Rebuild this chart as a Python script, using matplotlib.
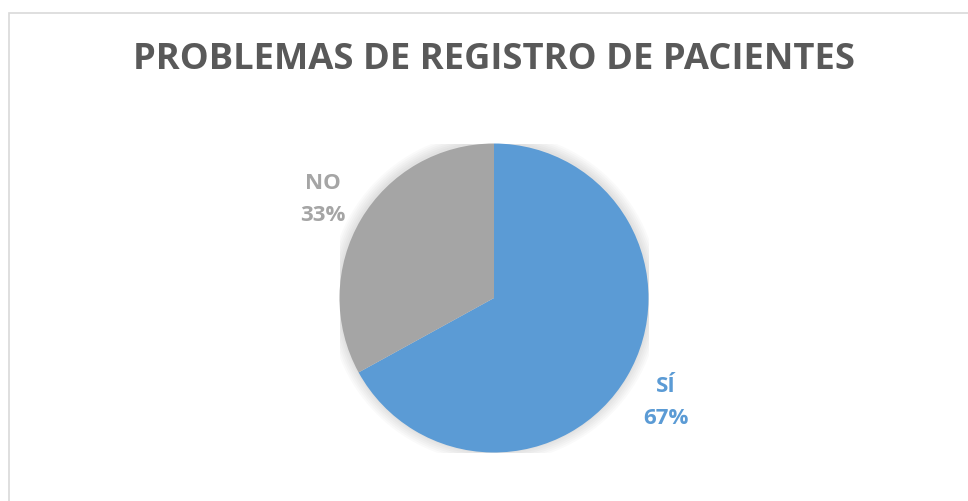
import matplotlib.pyplot as plt
from matplotlib.patches import Rectangle, Circle

# Data
categories = ['SÍ', 'NO']
values = [67, 33]
colors = ['#5B9BD5', '#A5A5A5']

plt.rcParams['font.family'] = ['Open Sans', 'DejaVu Sans']

W, H = 968, 501
fig = plt.figure(figsize=(W / 100, H / 100), dpi=100)

# chart area border (light grey, runs off the right and bottom edge)
fig.patches.append(Rectangle((8.5 / W, -0.1), 1.2, 1 - 12.5 / H + 0.1,
                             transform=fig.transFigure, fill=False,
                             edgecolor='#D9D9D9', linewidth=1.2))

# title
fig.text(494 / W, 1 - 60 / H, 'PROBLEMAS DE REGISTRO DE PACIENTES',
         ha='center', va='center', fontsize=26.2, fontweight='bold', color='#595959')

# pie axes: center (494, 298), radius ~154.5 px
cx, cy, r = 494, 298, 154.5
ax = fig.add_axes([(cx - r) / W, (H - cy - r) / H, 2 * r / W, 2 * r / H])
ax.axis('off')

# soft glow around the pie
for k in range(6):
    ax.add_patch(Circle((0, 0.005), 1.0 + 0.012 * (k + 1), color='black',
                        alpha=0.018, lw=0, zorder=0))

labels = [f'{c}\n{v}%' for c, v in zip(categories, values)]
wedges, texts = ax.pie(values, colors=colors, startangle=90, counterclock=False,
                       labels=labels, labeldistance=1.29,
                       wedgeprops=dict(linewidth=0, zorder=2),
                       textprops=dict(fontsize=16, fontweight='bold', linespacing=1.68))
for t, c in zip(texts, colors):
    t.set_color(c)
    t.set_ha('center')
    t.set_va('center')
    x, y = t.get_position()
    t.set_position((x, y - 0.02))
ax.set_xlim(-1, 1)
ax.set_ylim(-1, 1)
ax.set_aspect('equal')

fig.savefig('out.png', dpi=100)
